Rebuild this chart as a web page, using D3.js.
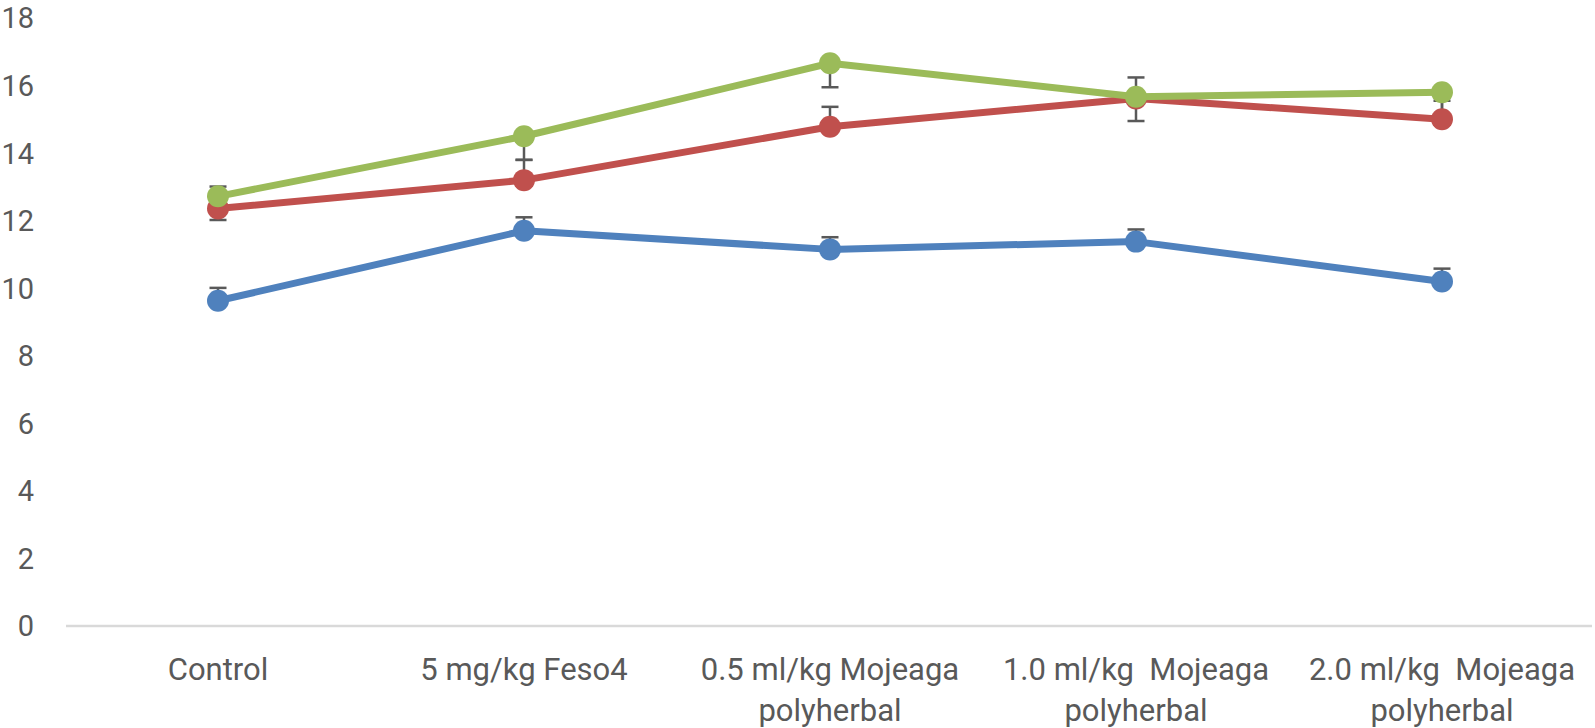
<!DOCTYPE html>
<html>
<head>
<meta charset="utf-8">
<script src="https://cdn.jsdelivr.net/npm/d3@7"></script>
<style>
  body { margin: 0; background: #fff; }
  .tick-label { font-family: Roboto, "Open Sans", sans-serif; font-size: 31px; fill: #595959; white-space: pre; }
  .y-label { font-size: 29px; }
</style>
</head>
<body>
<div id="chart"></div>
<script>
// DATA
const categories = [
  "Control",
  "5 mg/kg Feso4",
  "0.5 ml/kg Mojeaga polyherbal",
  "1.0 ml/kg  Mojeaga polyherbal",
  "2.0 ml/kg  Mojeaga polyherbal"
];
const yTicks = [0, 2, 4, 6, 8, 10, 12, 14, 16, 18];

const blueValues  = [9.63, 11.7, 11.15, 11.38, 10.2];
const blueErrors  = [0.38, 0.4, 0.36, 0.36, 0.38];
const redValues   = [12.36, 13.2, 14.78, 15.62, 15.0];
const redErrors   = [0.65, 0.6, 0.59, 0.62, 0.55];
const greenValues = [12.72, 14.5, 16.66, 15.67, 15.8];
const greenErrors = [0.7, 0.7, 0.71, 0.72, 0.7];

const series = [
  { values: blueValues,  errors: blueErrors,  dir: 1,  color: "#4F81BD" },
  { values: redValues,   errors: redErrors,   dir: 1,  color: "#C0504D" },
  { values: greenValues, errors: greenErrors, dir: -1, color: "#9BBB59" }
];

const W = 1595, H = 728;

const svg = d3.select("#chart")
  .append("svg")
  .attr("width", W)
  .attr("height", H);

const x = d3.scalePoint()
  .domain(categories)
  .range([65, 1595])
  .padding(0.5);

const y = d3.scaleLinear()
  .domain([0, 18])
  .range([626, 18]);

// y labels (no axis line, no grid)
svg.append("g")
  .selectAll("text")
  .data(yTicks)
  .enter()
  .append("text")
  .attr("class", "tick-label y-label")
  .attr("x", 34)
  .attr("y", (d) => y(d))
  .attr("dy", "0.36em")
  .attr("text-anchor", "end")
  .text((d) => d);

// category axis line
svg.append("line")
  .attr("x1", 66)
  .attr("x2", 1592)
  .attr("y1", y(0))
  .attr("y2", y(0))
  .attr("stroke", "#d9d9d9")
  .attr("stroke-width", 2.5);

// category labels, wrapped
const xLabels = svg.append("g")
  .selectAll("text")
  .data(categories)
  .enter()
  .append("text")
  .attr("class", "tick-label")
  .attr("text-anchor", "middle")
  .attr("x", (d) => x(d))
  .attr("y", 680);

xLabels.each(function (d) {
  const text = d3.select(this);
  const words = d.split(" ");
  let line = "";
  let lines = [];
  const probe = text.append("tspan");
  words.forEach((w) => {
    const test = line === "" ? w : line + " " + w;
    probe.text(test);
    if (probe.node().getComputedTextLength() > 295 && line !== "") {
      lines.push(line);
      line = w;
    } else {
      line = test;
    }
  });
  lines.push(line);
  probe.remove();
  lines.forEach((l, i) => {
    text.append("tspan")
      .attr("x", x(d))
      .attr("y", 680 + i * 41)
      .text(l.trim());
  });
});

// error bars go under the lines and markers
const capHalf = 8.5;
const errG = svg.append("g")
  .attr("stroke", "#595959")
  .attr("stroke-width", 2.5);

series.forEach((s) => {
  const g = errG.append("g");
  const ends = s.values.map((v, i) => v + s.dir * s.errors[i]);
  g.selectAll("line.bar")
    .data(categories)
    .enter()
    .append("line")
    .attr("x1", (d) => x(d))
    .attr("x2", (d) => x(d))
    .attr("y1", (d, i) => y(s.values[i]))
    .attr("y2", (d, i) => y(ends[i]));
  g.selectAll("line.cap")
    .data(categories)
    .enter()
    .append("line")
    .attr("x1", (d) => x(d) - capHalf)
    .attr("x2", (d) => x(d) + capHalf)
    .attr("y1", (d, i) => y(ends[i]))
    .attr("y2", (d, i) => y(ends[i]));
});

// lines + markers
const lineGen = d3.line()
  .x((d, i) => x(categories[i]))
  .y((d) => y(d));

series.forEach((s) => {
  svg.append("path")
    .datum(s.values)
    .attr("fill", "none")
    .attr("stroke", s.color)
    .attr("stroke-width", 7)
    .attr("stroke-linejoin", "round")
    .attr("d", lineGen);

  svg.append("g")
    .selectAll("circle")
    .data(s.values)
    .enter()
    .append("circle")
    .attr("cx", (d, i) => x(categories[i]))
    .attr("cy", (d) => y(d))
    .attr("r", 11)
    .attr("fill", s.color);
});
</script>
</body>
</html>
